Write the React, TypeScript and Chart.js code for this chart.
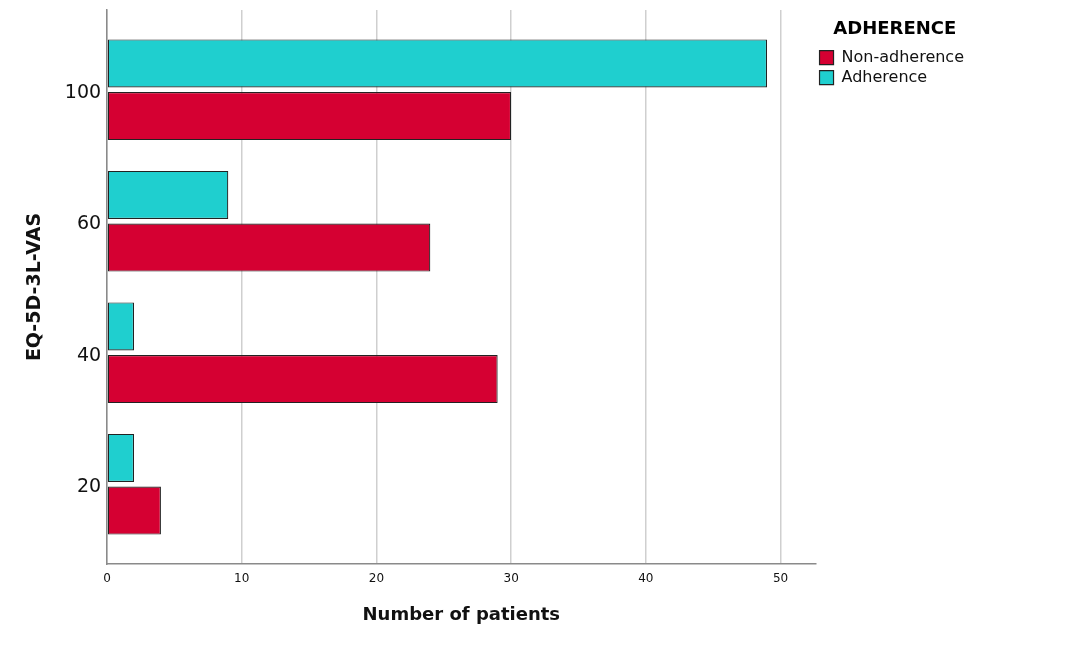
import React, { useEffect, useRef } from "react";
import { Chart, registerables } from "chart.js";

Chart.register(...registerables);

// Categories listed bottom to top (index 0 = bottom)
const categories = ["20", "40", "60", "100"];
const nonAdherence = [4, 29, 24, 30];
const adherence = [2, 2, 9, 49];
const xTicks = [0, 10, 20, 30, 40, 50];

const FONT = "'DejaVu Sans', sans-serif";

export default function App() {
  const ref = useRef<HTMLCanvasElement | null>(null);

  useEffect(() => {
    if (!ref.current) return;
    const chart = new Chart(ref.current, {
      type: "bar",
      data: {
        datasets: [
          {
            label: "Adherence",
            data: adherence.map((v, i) => ({ x: v, y: i })),
            backgroundColor: "#1fcfcf",
            borderColor: "#222222",
            borderWidth: 1.2,
            borderSkipped: false,
          },
          {
            label: "Non-adherence",
            data: nonAdherence.map((v, i) => ({ x: v, y: i })),
            backgroundColor: "#d50032",
            borderColor: "#222222",
            borderWidth: 1.2,
            borderSkipped: false,
          },
        ],
      },
      options: {
        animation: false,
        responsive: true,
        maintainAspectRatio: false,
        indexAxis: "y",
        categoryPercentage: 0.8,
        barPercentage: 0.915,
        layout: { padding: { top: 2, right: 110, bottom: 12, left: 16 } },
        plugins: {
          tooltip: { enabled: false },
          legend: {
            position: "right",
            align: "start",
            reverse: true,
            title: {
              display: true,
              text: "ADHERENCE",
              position: "center",
              color: "#000",
              font: { family: FONT, size: 18, weight: "bold" },
              padding: { top: 10, bottom: 4 },
            },
            labels: {
              color: "#111",
              boxWidth: 14,
              boxHeight: 14,
              padding: 4,
              font: { family: FONT, size: 16 },
            },
          },
        },
        scales: {
          x: {
            type: "linear",
            min: 0,
            max: 52.6,
            afterBuildTicks: (s: any) => {
              s.ticks = xTicks.map((v) => ({ value: v }));
            },
            ticks: {
              includeBounds: false,
              color: "#111",
              font: { family: FONT, size: 12 },
              padding: 8,
            },
            grid: { display: true, color: "#cfcfcf", lineWidth: 1.5, drawTicks: false },
            border: { display: true, color: "#8a8a8a", width: 1.5 },
            title: {
              display: true,
              text: "Number of patients",
              color: "#111",
              font: { family: FONT, size: 18, weight: "bold" },
              padding: { top: 10, bottom: 0 },
            },
          },
          y: {
            type: "linear",
            offset: false,
            min: -0.6066,
            max: 3.6066,
            afterBuildTicks: (s: any) => {
              s.ticks = categories.map((_, i) => ({ value: i }));
            },
            afterFit: (s: any) => {
              s.paddingTop = 0;
              s.paddingBottom = 0;
            },
            ticks: {
              color: "#111",
              font: { family: FONT, size: 19 },
              padding: 6,
              labelOffset: 3,
              callback: (v: any) => categories[Number(v)] ?? "",
            },
            grid: { display: false, drawTicks: false, offset: false },
            border: { display: true, color: "#8a8a8a", width: 1.5 },
            title: {
              display: true,
              text: "EQ-5D-3L-VAS",
              color: "#111",
              font: { family: FONT, size: 19, weight: "bold" },
              padding: { top: 0, bottom: 12 },
            },
          },
        },
      },
    });
    return () => chart.destroy();
  }, []);

  return (
    <div style={{ width: 1076, height: 630, position: "relative" }}>
      <canvas ref={ref} />
    </div>
  );
}
